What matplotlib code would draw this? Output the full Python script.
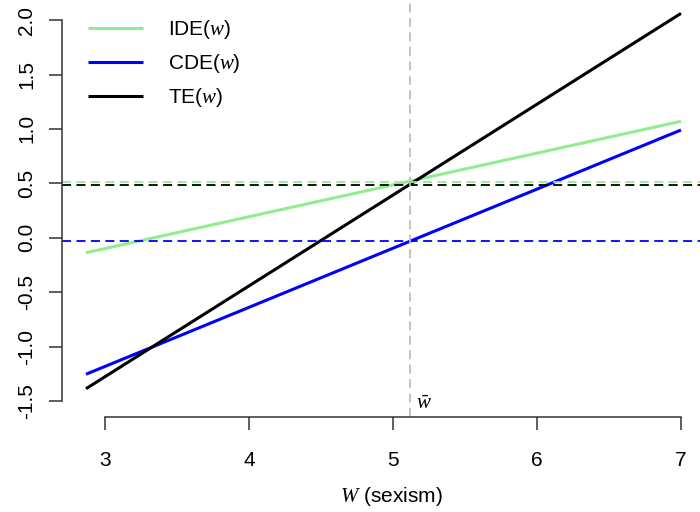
import numpy as np
import matplotlib
matplotlib.use("Agg")
import matplotlib.pyplot as plt

# --- fonts: sans text, serif italic for the math symbols (R plotmath look) ---
plt.rcParams['font.family'] = ['Liberation Sans', 'DejaVu Sans']
plt.rcParams['mathtext.fontset'] = 'custom'
plt.rcParams['mathtext.rm'] = 'Liberation Sans'
plt.rcParams['mathtext.it'] = 'Liberation Serif:italic'

# --- data ---
w_range = [2.868, 7.0]
ide_w = [-0.138, 1.070]
cde_w = [-1.255, 0.990]
te_w = [-1.388, 2.062]

ide_avg = 0.515
te_avg = 0.487
cde_avg = -0.030
w_bar = 5.118

x_ticks = [3, 4, 5, 6, 7]
y_ticks = [-1.5, -1.0, -0.5, 0.0, 0.5, 1.0, 1.5, 2.0]

green = '#90EE90'
blue = '#0000FF'
fs = 15

fig = plt.figure(figsize=(7.0, 5.12), dpi=100)
ax = fig.add_axes([62.3/700, 95/512, 637.7/700, 417/512])

ax.plot(w_range, ide_w, color=green, lw=2.2, solid_capstyle='butt', label='IDE($w$)')
ax.plot(w_range, cde_w, color=blue, lw=2.2, solid_capstyle='butt', label='CDE($w$)')
ax.plot(w_range, te_w, color='black', lw=2.2, solid_capstyle='butt', label='TE($w$)')

dash = (0, (5, 3))
ax.axhline(ide_avg, color=green, lw=1.3, ls=dash)
ax.axhline(te_avg, color='black', lw=1.3, ls=dash)
ax.axhline(cde_avg, color=blue, lw=1.3, ls=dash)
ax.axvline(w_bar, color='#BEBEBE', lw=1.3, ls=dash)
ax.text(w_bar + 0.04, -1.52, r'$\bar{w}$', fontsize=fs, ha='left', va='center')

ax.set_xlim(2.7035, 7.132)
ax.set_ylim(-1.648, 2.185)

for s in ['top', 'right']:
    ax.spines[s].set_visible(False)
ax.spines['bottom'].set_bounds(3, 7)
ax.spines['left'].set_bounds(-1.5, 2.0)
for s in ['bottom', 'left']:
    ax.spines[s].set_color('#333333')
    ax.spines[s].set_linewidth(1.1)

ax.set_xticks(x_ticks)
ax.set_xticklabels([str(t) for t in x_ticks])
ax.set_yticks(y_ticks)
ax.set_yticklabels(['%.1f' % t for t in y_ticks], rotation=90, va='center')
ax.tick_params(axis='both', length=9.4, width=1.1, color='#333333', labelsize=fs)
ax.tick_params(axis='x', pad=15)
ax.tick_params(axis='y', pad=9.5)

ax.set_xlabel('$W$ (sexism)', fontsize=fs)
ax.xaxis.set_label_coords(0.516, -0.163)

ax.legend(loc='upper left', bbox_to_anchor=(0.0403, 0.957), frameon=False,
          fontsize=fs, handlelength=2.64, handletextpad=1.2, labelspacing=0.54,
          borderpad=0, borderaxespad=0)

fig.savefig('out.png', dpi=100)
